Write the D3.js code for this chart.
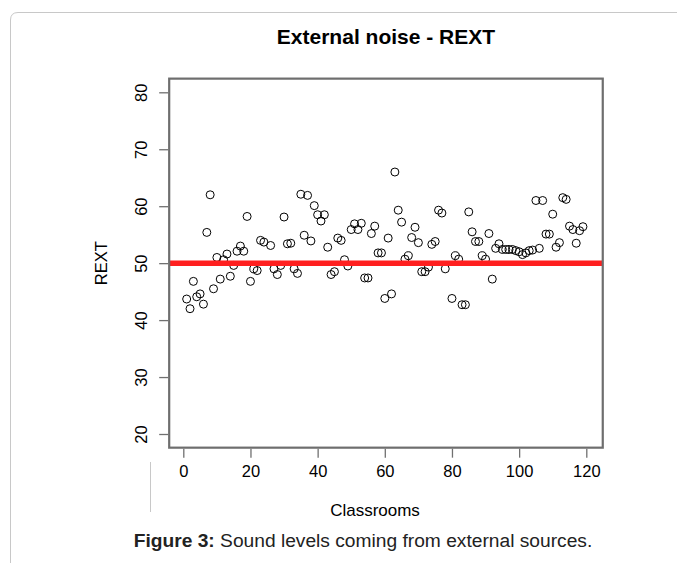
<!DOCTYPE html>
<head>
<meta charset="utf-8">
<style>
body { margin: 0; background: #fff; }
svg text { font-family: "Liberation Sans", Arial, sans-serif; }
.axis text { font-size: 16.5px; fill: #000; }
</style>
</head>
<body>
<svg width="677" height="563"></svg>
<script src="https://cdn.jsdelivr.net/npm/d3@7"></script>
<script>
// REXT per classroom (index 1..119), null = no reading
var rext = [
  43.7, 42.0, 46.8, 44.1, 44.6, 42.8, 55.4, 62.0, 45.5, 51.0,
  47.2, 50.6, 51.6, 47.7, 49.6, 52.1, 53.0, 52.1, 58.2, 46.8,
  49.0, 48.7, 54.0, 53.7, null, 53.1, 49.0, 48.0, 49.6, 58.1,
  53.4, 53.5, 49.0, 48.2, 62.1, 54.9, 61.9, 53.9, 60.1, 58.5,
  57.4, 58.5, 52.8, 48.0, 48.5, 54.4, 54.0, 50.6, 49.5, 55.9,
  56.9, 55.9, 57.0, 47.4, 47.4, 55.2, 56.5, 51.8, 51.8, 43.8,
  54.4, 44.6, 66.0, 59.3, 57.2, 50.7, 51.3, 54.5, 56.3, 53.6,
  48.5, 48.5, 49.3, 53.3, 53.8, 59.3, 58.8, 49.0, null, 43.8,
  51.3, 50.7, 42.7, 42.7, 59.0, 55.5, 53.8, 53.8, 51.3, 50.7,
  55.2, 47.2, 52.6, 53.4, 52.4, 52.4, 52.4, 52.4, 52.2, 52.0,
  51.5, 51.8, 52.2, 52.3, 61.0, 52.6, 61.0, 55.1, 55.1, 58.6,
  52.8, 53.6, 61.5, 61.2, 56.5, 55.9, 53.5, 55.7, 56.4
];
var refLevel = 50;
var xTicks = [0, 20, 40, 60, 80, 100, 120];
var yTicks = [20, 30, 40, 50, 60, 70, 80];

var svg = d3.select("svg");

// page frame
svg.append("path")
    .attr("d", "M10.5,563 L10.5,20 Q10.5,12.5 18,12.5 L677,12.5")
    .attr("fill", "none")
    .attr("stroke", "#c8c8c8");
svg.append("line")
    .attr("x1", 150.5).attr("x2", 150.5)
    .attr("y1", 462).attr("y2", 512)
    .attr("stroke", "#c8c8c8");

var x = d3.scaleLinear().domain([0, 120]).range([183.3, 586.3]);
var y = d3.scaleLinear().domain([20, 80]).range([434, 92.3]);

var x0 = x(-4.2), x1 = x(124.9), y0 = y(17.6), y1 = y(82.4);

var pts = rext.map(function(v, i) { return {i: i + 1, v: v}; })
    .filter(function(d) { return d.v != null; });

svg.append("g").selectAll("circle")
    .data(pts)
  .enter().append("circle")
    .attr("cx", function(d) { return x(d.i); })
    .attr("cy", function(d) { return y(d.v); })
    .attr("r", 4)
    .attr("fill", "none")
    .attr("stroke", "#000")
    .attr("stroke-width", 1);

svg.append("line")
    .attr("x1", x0).attr("x2", x1)
    .attr("y1", y(refLevel)).attr("y2", y(refLevel))
    .attr("stroke", "#ff1f1f")
    .attr("stroke-width", 5.5);

// axes
var xAxis = svg.append("g")
    .attr("class", "axis")
    .attr("transform", "translate(0," + (y0 + 1) + ")")
    .call(d3.axisBottom(x).tickValues(xTicks).tickSize(9).tickPadding(8));
var yAxis = svg.append("g")
    .attr("class", "axis")
    .attr("transform", "translate(" + (x0 - 1) + ",0)")
    .call(d3.axisLeft(y).tickValues(yTicks).tickSize(9));
svg.selectAll(".axis .domain").remove();
svg.selectAll(".axis line").attr("stroke", "#707070").attr("stroke-width", 1.3);
yAxis.selectAll("text")
    .attr("x", 0).attr("y", 0).attr("dy", 0)
    .attr("transform", "translate(-21,0) rotate(-90)")
    .style("text-anchor", "middle");

svg.append("rect")
    .attr("x", x0).attr("y", y1)
    .attr("width", x1 - x0).attr("height", y0 - y1)
    .attr("fill", "none")
    .attr("stroke", "#6e6e6e")
    .attr("stroke-width", 2.2);

// titles
svg.append("text")
    .attr("x", (x0 + x1) / 2).attr("y", 44)
    .attr("text-anchor", "middle")
    .style("font-size", "21px").style("font-weight", "bold")
    .text("External noise - REXT");

svg.append("text")
    .attr("x", 375).attr("y", 516)
    .attr("text-anchor", "middle")
    .style("font-size", "17px")
    .text("Classrooms");

svg.append("text")
    .attr("transform", "translate(107," + ((y0 + y1) / 2) + ") rotate(-90)")
    .attr("text-anchor", "middle")
    .style("font-size", "16.5px")
    .text("REXT");

var cap = svg.append("text")
    .attr("x", 363).attr("y", 547)
    .attr("text-anchor", "middle")
    .style("font-size", "19.2px")
    .attr("fill", "#222");
cap.append("tspan").style("font-weight", "bold").text("Figure 3:");
cap.append("tspan").text(" Sound levels coming from external sources.");
</script>
</body>
</html>
